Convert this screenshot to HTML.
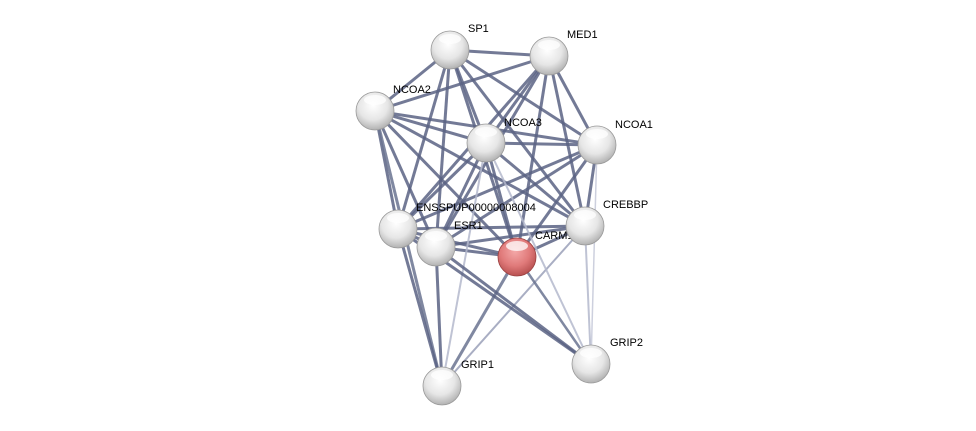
<!DOCTYPE html>
<html><head><meta charset="utf-8"><style>
html,body{margin:0;padding:0;background:#fff;}
svg{display:block;}
text{font-family:"Liberation Sans",Arial,sans-serif;font-size:11px;fill:#000;}
</style></head><body>
<svg id="s" width="976" height="431" viewBox="0 0 976 431" xmlns="http://www.w3.org/2000/svg">
<defs>
<radialGradient id="gw" cx="45%" cy="35%" r="70%">
<stop offset="0" stop-color="#ffffff"/><stop offset="0.55" stop-color="#e6e6e6"/><stop offset="1" stop-color="#a8a8a8"/></radialGradient>
<radialGradient id="gr" cx="45%" cy="35%" r="70%">
<stop offset="0" stop-color="#f4a8a8"/><stop offset="0.55" stop-color="#e07a7a"/><stop offset="1" stop-color="#b04848"/></radialGradient>
</defs>
<g id="edges"></g>
<g id="labelsBelow"></g>
<g id="nodes"></g>
<g id="labels"></g>
</svg>
<script>
var N={SP1:[450,50],MED1:[549,56],NCOA2:[375,111],NCOA3:[486,143],NCOA1:[597,145],ENSS:[398,229],ESR1:[436,247],CARM1:[517,257],CREBBP:[585,226],GRIP1:[442,386],GRIP2:[591,364]};
var core=["SP1","MED1","NCOA2","NCOA3","NCOA1","ENSS","ESR1","CARM1","CREBBP"];
var E=[];
for(var i=0;i<core.length;i++)for(var j=i+1;j<core.length;j++){E.push([core[i],core[j],"#5a6384",3]);}
E.push(["GRIP1","NCOA2","#6a7390",3],["GRIP1","ENSS","#5a6384",3],["GRIP1","ESR1","#5a6384",3],["GRIP1","CARM1","#6a7390",3],["GRIP1","CREBBP","#9aa0b8",2],["GRIP1","NCOA3","#b4b8cc",2],
["GRIP2","ESR1","#5a6384",3],["GRIP2","ENSS","#5a6384",3],["GRIP2","CARM1","#6a7390",2.5],["GRIP2","CREBBP","#b4b8cc",2],["GRIP2","NCOA3","#b4b8cc",2],["GRIP2","NCOA1","#c4c8d8",1.5]);
var ns="http://www.w3.org/2000/svg";
var eg=document.getElementById("edges");
E.forEach(function(e){var a=N[e[0]],b=N[e[1]];var l=document.createElementNS(ns,"line");
l.setAttribute("x1",a[0]);l.setAttribute("y1",a[1]);l.setAttribute("x2",b[0]);l.setAttribute("y2",b[1]);
l.setAttribute("stroke",e[2]);l.setAttribute("stroke-width",e[3]);l.setAttribute("stroke-opacity","0.85");eg.appendChild(l);});
var ng=document.getElementById("nodes");
for(var k in N){var p=N[k];var c=document.createElementNS(ns,"circle");c.setAttribute("cx",p[0]);c.setAttribute("cy",p[1]);c.setAttribute("r",19);
c.setAttribute("fill",k=="CARM1"?"url(#gr)":"url(#gw)");c.setAttribute("stroke",k=="CARM1"?"#9a4040":"#9a9a9a");c.setAttribute("stroke-width","0.8");ng.appendChild(c);
var h=document.createElementNS(ns,"ellipse");h.setAttribute("cx",p[0]);h.setAttribute("cy",p[1]-11);h.setAttribute("rx",11);h.setAttribute("ry",5);h.setAttribute("fill","#fff");h.setAttribute("fill-opacity","0.75");ng.appendChild(h);}
var L=[["SP1",468,32],["MED1",567,38],["NCOA2",393,93],["NCOA3",504,126],["NCOA1",615,128],["ENSSPUP00000008004",416,211],["ESR1",454,229],["CARM1",535,239],["CREBBP",603,208],["GRIP1",461,368],["GRIP2",610,346]];
L.forEach(function(t){var x=document.createElementNS(ns,"text");x.setAttribute("x",t[1]);x.setAttribute("y",t[2]);x.textContent=t[0];
document.getElementById(t[0]=="CARM1"?"labelsBelow":"labels").appendChild(x);});
</script>
</body></html>
